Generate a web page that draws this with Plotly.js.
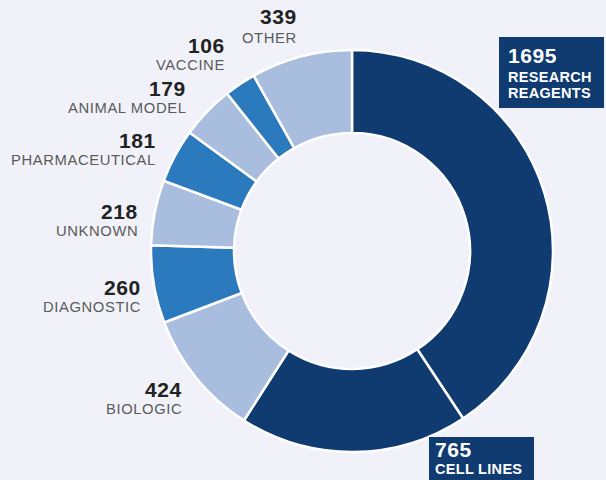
<!DOCTYPE html>
<html>
<head>
<meta charset="utf-8">
<script src="https://cdn.plot.ly/plotly-3.0.1.min.js"></script>
<style>
html,body{margin:0;padding:0;background:#f1f2f9;}
#chart{width:606px;height:480px;}
</style>
</head>
<body>
<div id="chart"></div>
<script>
// ---- data ----
const categories = ["RESEARCH REAGENTS", "CELL LINES", "BIOLOGIC", "DIAGNOSTIC", "UNKNOWN", "PHARMACEUTICAL", "ANIMAL MODEL", "VACCINE", "OTHER"];
const counts = [1695, 765, 424, 260, 218, 181, 179, 106, 339];
const sliceColors = ["#103b71", "#103b71", "#a9bdde", "#2c7abe", "#a9bdde", "#2c7abe", "#a9bdde", "#2c7abe", "#a9bdde"];
const labelLines = [["RESEARCH", "REAGENTS"], ["CELL LINES"], ["BIOLOGIC"], ["DIAGNOSTIC"], ["UNKNOWN"], ["PHARMACEUTICAL"], ["ANIMAL MODEL"], ["VACCINE"], ["OTHER"]];

// ---- layout helpers (pixel positions of label blocks) ----
const W = 606, H = 480;
const px = x => x / W;
const py = y => 1 - y / H;
// plain labels: right edge x, number center y, label center y
const plainPos = {
  2: [184, 389, 409],
  3: [143, 287, 307],
  4: [140, 211, 231],
  5: [158, 140, 160],
  6: [188, 88, 108],
  7: [227, 45, 65],
  8: [299, 17, 38]
};
// boxed labels: box [x0,y0,x1,y1], text left x, number y, label line ys
const boxPos = {
  0: {box: [499, 37, 604, 108], x: 506, ny: 55, ly: [77, 93]},
  1: {box: [429, 437, 534, 490], x: 433, ny: 449, ly: [469]}
};

const FONT = "Liberation Sans, Arial, Helvetica, sans-serif";
const annotations = [];
const shapes = [];
const spaced = (t, s) => `<span style="letter-spacing:${s}px">${t}</span>`;

Object.keys(plainPos).forEach(k => {
  const i = +k, p = plainPos[k];
  annotations.push({
    xref: "paper", yref: "paper", x: px(p[0]), y: py(p[1]), xanchor: "right", yanchor: "middle",
    text: spaced(String(counts[i]), 0.6), showarrow: false,
    font: {family: FONT, size: 21, color: "#222222", weight: "bold"}
  });
  annotations.push({
    xref: "paper", yref: "paper", x: px(p[0]), y: py(p[2]), xanchor: "right", yanchor: "middle",
    text: spaced(labelLines[i].join(" "), 0.6), showarrow: false,
    font: {family: FONT, size: 14.8, color: "#5a5a5a"}
  });
});

Object.keys(boxPos).forEach(k => {
  const i = +k, b = boxPos[k];
  shapes.push({
    type: "rect", xref: "paper", yref: "paper",
    x0: px(b.box[0]), x1: px(b.box[2]), y0: py(b.box[1]), y1: py(b.box[3]),
    fillcolor: sliceColors[i], line: {width: 0}, layer: "above"
  });
  annotations.push({
    xref: "paper", yref: "paper", x: px(b.x), y: py(b.ny), xanchor: "left", yanchor: "middle",
    text: spaced(String(counts[i]), 0.6), showarrow: false,
    font: {family: FONT, size: 21, color: "#ffffff", weight: "bold"}
  });
  labelLines[i].forEach((ln, j) => {
    annotations.push({
      xref: "paper", yref: "paper", x: px(b.x), y: py(b.ly[j]), xanchor: "left", yanchor: "middle",
      text: spaced(ln, 0.3), showarrow: false,
      font: {family: FONT, size: 14.5, color: "#ffffff", weight: "bold"}
    });
  });
});

const trace = {
  type: "pie",
  labels: categories,
  values: counts,
  sort: false,
  direction: "clockwise",
  rotation: 0,
  hole: 0.587,
  textinfo: "none",
  hoverinfo: "label+value",
  marker: {colors: sliceColors, line: {color: "#ffffff", width: 2.5}},
  domain: {x: [px(151), px(553)], y: [py(452), py(50)]},
  showlegend: false
};

const layout = {
  width: W, height: H,
  margin: {l: 0, r: 0, t: 0, b: 0, pad: 0},
  paper_bgcolor: "#f1f2f9",
  plot_bgcolor: "#f1f2f9",
  showlegend: false,
  annotations: annotations,
  shapes: shapes
};

Plotly.newPlot("chart", [trace], layout, {displayModeBar: false, staticPlot: true});
</script>
</body>
</html>
